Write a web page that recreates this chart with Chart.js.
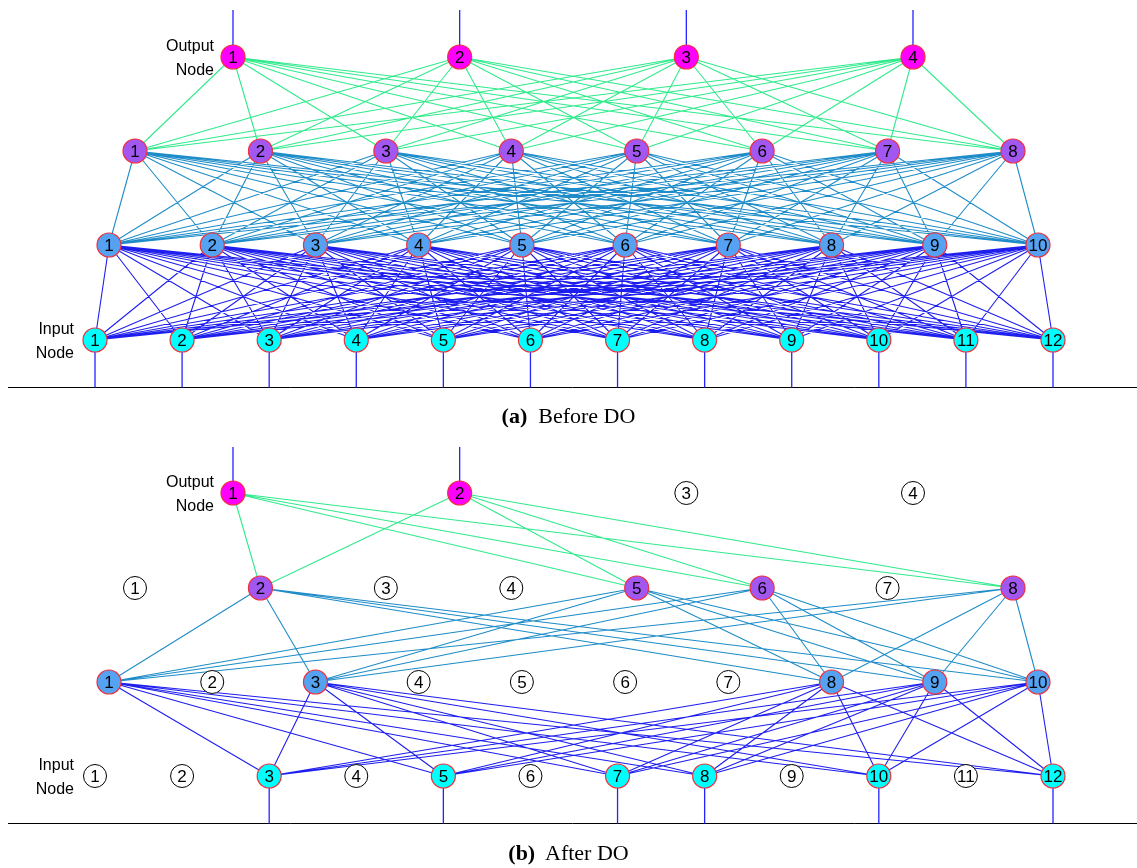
<!DOCTYPE html>
<html>
<head>
<meta charset="utf-8">
<script src="https://cdn.jsdelivr.net/npm/chart.js@4/dist/chart.umd.min.js"></script>
<style>
  body { margin: 0; background: #fff; }
  #wrap { position: relative; width: 1137px; height: 868px; }
  .side { position: absolute; font-family: "Liberation Sans", Arial, sans-serif; font-size: 16px; line-height: 24px; text-align: right; color: #000; }
  .cap { position: absolute; left: 0; width: 1137px; text-align: center; font-family: "Liberation Serif", "Times New Roman", serif; font-size: 22px; color: #000; }
</style>
</head>
<body>
<div id="wrap">
  <canvas id="netChart"></canvas>
  <div class="side" style="left:120px; top:34px; width:94px;">Output<br>Node</div>
  <div class="side" style="left:0px; top:317px; width:74px;">Input<br>Node</div>
  <div class="side" style="left:120px; top:470px; width:94px;">Output<br>Node</div>
  <div class="side" style="left:0px; top:753px; width:74px;">Input<br>Node</div>
  <div class="cap" style="top:403px;"><b>(a)</b>&nbsp; Before DO</div>
  <div class="cap" style="top:840px;"><b>(b)</b>&nbsp; After DO</div>
</div>
<script>
// network structure: output -> hidden 2 -> hidden 1 -> input
const layerNames = ['Output', 'Hidden 2', 'Hidden 1', 'Input'];
const layerSizes = [4, 8, 10, 12];
const activeBefore = layerSizes.map(n => Array.from({ length: n }, (_, i) => i + 1));
const activeAfter = [
    [1, 2],
    [2, 5, 6, 8],
    [1, 3, 8, 9, 10],
    [3, 5, 7, 8, 10, 12]
];

// layout (pixels, the scales map 1:1 to the canvas)
const layerSpan = [[233, 913], [135, 1013], [109, 1038], [95, 1053]];
const panelRows = [[57, 151, 245, 340], [493, 588, 682, 776]];
const leadTop = [10, 447];
const baseY = [387.5, 823.5];

const nodeFill = ['#ff00ff', '#a257f0', '#55a2f2', '#00ffff'];
const edgeColor = ['#30ea8c', '#1e8cc8', '#1e1eef'];

function nodeX(l, i) {
    const [x0, x1] = layerSpan[l];
    return x0 + (x1 - x0) * (i - 1) / (layerSizes[l] - 1);
}

const GAP = { x: null, y: null };
const datasets = [];

function buildPanel(p, active) {
    const rows = panelRows[p];

    // nodes
    for (let l = 0; l < 4; l++) {
        const on = active[l];
        const off = [];
        for (let i = 1; i <= layerSizes[l]; i++) if (!on.includes(i)) off.push(i);
        datasets.push({
            label: layerNames[l] + ' active',
            data: on.map(i => ({ x: nodeX(l, i), y: rows[l] })),
            nodeLabels: on,
            pointRadius: 12,
            pointBackgroundColor: nodeFill[l],
            pointBorderColor: '#f0303c',
            pointBorderWidth: 1.2,
            order: 0
        });
        if (off.length) {
            datasets.push({
                label: layerNames[l] + ' dropped',
                data: off.map(i => ({ x: nodeX(l, i), y: rows[l] })),
                nodeLabels: off,
                pointRadius: 11.5,
                pointBackgroundColor: '#ffffff',
                pointBorderColor: '#000000',
                pointBorderWidth: 1,
                order: 0
            });
        }
    }

    // connections between neighbouring layers
    for (let l = 0; l < 3; l++) {
        const pts = [];
        active[l].forEach(a => {
            active[l + 1].forEach(b => {
                pts.push({ x: nodeX(l, a), y: rows[l] }, { x: nodeX(l + 1, b), y: rows[l + 1] }, GAP);
            });
        });
        datasets.push({
            label: 'edges ' + l,
            data: pts,
            showLine: true,
            pointRadius: 0,
            borderColor: edgeColor[l],
            borderWidth: 1.1,
            spanGaps: false,
            order: 2 + l
        });
    }

    // leads in/out and the baseline
    const leads = [];
    active[0].forEach(a => leads.push({ x: nodeX(0, a), y: leadTop[p] }, { x: nodeX(0, a), y: rows[0] }, GAP));
    active[3].forEach(a => leads.push({ x: nodeX(3, a), y: rows[3] }, { x: nodeX(3, a), y: baseY[p] }, GAP));
    datasets.push({
        label: 'leads',
        data: leads,
        showLine: true,
        pointRadius: 0,
        borderColor: '#2424ff',
        borderWidth: 1.3,
        spanGaps: false,
        order: 1
    });
    datasets.push({
        label: 'baseline',
        data: [{ x: 8, y: baseY[p] }, { x: 1137, y: baseY[p] }],
        showLine: true,
        pointRadius: 0,
        borderColor: '#000000',
        borderWidth: 1,
        order: 1
    });
}

buildPanel(0, activeBefore);
buildPanel(1, activeAfter);

const nodeText = {
    id: 'nodeText',
    afterDatasetsDraw(chart) {
        const ctx = chart.ctx;
        ctx.save();
        ctx.fillStyle = '#000';
        ctx.font = '17px "Liberation Sans", Arial, sans-serif';
        ctx.textAlign = 'center';
        ctx.textBaseline = 'middle';
        chart.data.datasets.forEach((ds, di) => {
            if (!ds.nodeLabels) return;
            chart.getDatasetMeta(di).data.forEach((pt, k) => {
                ctx.fillText(String(ds.nodeLabels[k]), pt.x, pt.y + 1);
            });
        });
        ctx.restore();
    }
};

document.addEventListener('DOMContentLoaded', () => {
    const canvas = document.getElementById('netChart');
    canvas.width = 1137;
    canvas.height = 868;
    new Chart(canvas.getContext('2d'), {
        type: 'scatter',
        data: { datasets: datasets },
        options: {
            responsive: false,
            animation: false,
            layout: { padding: 0, autoPadding: false },
            plugins: {
                legend: { display: false },
                tooltip: { enabled: false }
            },
            scales: {
                x: { type: 'linear', min: 0, max: 1137, display: false },
                y: { type: 'linear', min: 0, max: 868, reverse: true, display: false }
            }
        },
        plugins: [nodeText]
    });
});
</script>
</body>
</html>
